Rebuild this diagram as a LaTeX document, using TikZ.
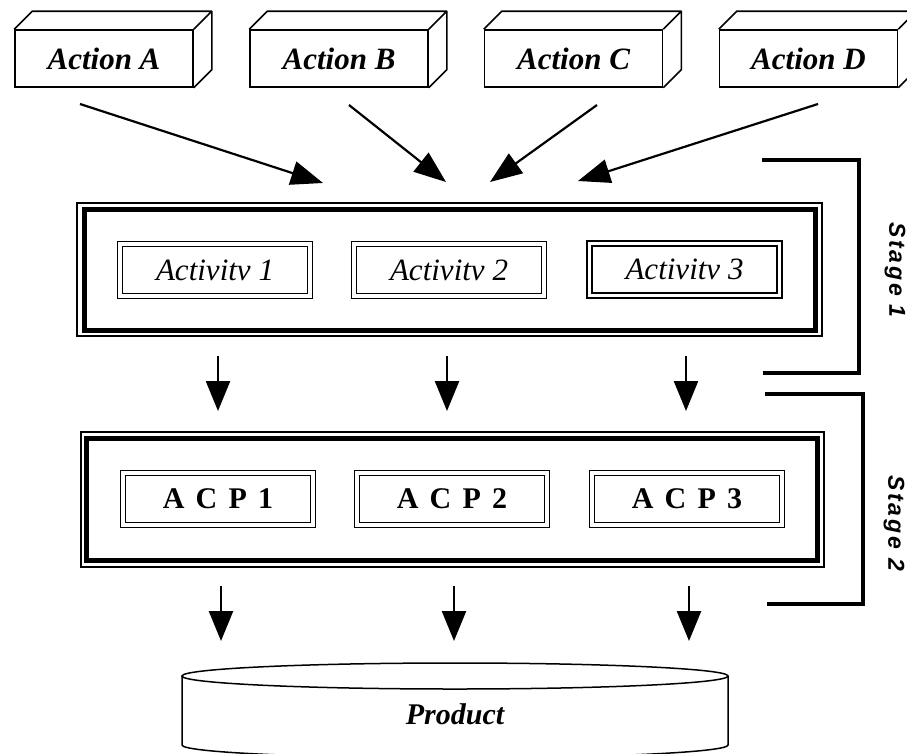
\documentclass[tikz,border=0pt]{standalone}
\usepackage{fontspec}
\setmainfont{Liberation Serif}
\newfontfamily\stagefont[LetterSpace=12]{Liberation Sans}
\newfontfamily\acpfont[WordSpace=1.5]{Liberation Serif}
\usetikzlibrary{arrows.meta}
\tikzset{
  actbox/.style={draw, line width=1.6pt, minimum width=178pt, minimum height=57pt, inner sep=0pt,
    font=\fontsize{31}{36}\selectfont\bfseries\itshape},
  dbox/.style={draw, double, line width=1.5pt, double distance=3.5pt, minimum width=190pt,
    minimum height=52pt, inner sep=0pt},
  actytext/.style={font=\fontsize{31}{36}\selectfont\itshape},
  acptext/.style={font=\acpfont\fontsize{30}{36}\selectfont\bfseries},
  thinframe/.style={draw, line width=1.5pt, inner sep=0pt},
  thickframe/.style={draw, line width=5pt, inner sep=0pt},
  bracket/.style={line width=4pt},
  diagarrow/.style={line width=2.2pt, -{Triangle[width=24pt,length=32pt]}},
  downarrow/.style={line width=2.5pt, -{Triangle[width=24pt,length=30pt]}},
  stagetext/.style={rotate=-90, font=\stagefont\fontsize{23}{26}\selectfont\bfseries\itshape},
}
\begin{document}
\begin{tikzpicture}[x=1pt,y=-1pt]
\useasboundingbox (0,0) rectangle (907,753);
\clip (0,0) rectangle (907,753);
\fill[white] (0,0) rectangle (907,753);

% Action boxes (3D)
\foreach \n/\x/\t in {A/104/Action A, B/339/Action B, C/573.5/Action C, D/808.5/Action D}{
  \node[actbox] (act\n) at (\x,58.5) {\t};
  \draw[line width=1.6pt, line join=round] (act\n.north west) -- ++(18,-18) -| ([shift={(18,-18)}]act\n.south east) -- (act\n.south east)
        (act\n.north east) -- ++(18,-18);
}

% Diagonal arrows
\coordinate (sA) at (80,104);  \coordinate (eA) at (323,183);
\coordinate (sB) at (349,105); \coordinate (eB) at (446,182);
\coordinate (sC) at (597,105); \coordinate (eC) at (490,182);
\coordinate (sD) at (818,104); \coordinate (eD) at (578,181);
\foreach \n in {A,B,C,D}{ \draw[diagarrow] (s\n) -- (e\n); }

% Stage 1 frame
\node[thinframe, minimum width=745pt, minimum height=133pt] (st1out) at (449.5,269.5) {};
\node[thickframe, minimum width=731pt, minimum height=121pt] (st1in) at (449.5,269.5) {};
\node[dbox, actytext] (a1) at (215,270) {Activitv 1};
\node[dbox, actytext] (a2) at (449,270) {Activitv 2};
\node[dbox, actytext] (a3) at (684.5,269.5) {Activitv 3};

% Stage 2 frame
\node[thinframe, minimum width=743pt, minimum height=135pt] (st2out) at (452.5,499.5) {};
\node[thickframe, minimum width=731pt, minimum height=122pt] (st2in) at (451.5,499) {};
\node[dbox, acptext] (p1) at (218,499) {A C P 1};
\node[dbox, acptext] (p2) at (452,499) {A C P 2};
\node[dbox, acptext] (p3) at (687,499) {A C P 3};

% Down arrows between stages
\foreach \i/\x in {1/218, 2/447, 3/686}{
  \coordinate (d1s\i) at (\x,356); \coordinate (d1e\i) at (\x,411);
  \draw[downarrow] (d1s\i) -- (d1e\i);
}
\foreach \i/\x in {1/221, 2/454, 3/689}{
  \coordinate (d2s\i) at (\x,586); \coordinate (d2e\i) at (\x,641);
  \draw[downarrow] (d2s\i) -- (d2e\i);
}

% Stage brackets
\coordinate (b1a) at (762,160); \coordinate (b1c) at (763,373);
\draw[bracket] (b1a) -| (859,373) -- (b1c);
\coordinate (b2a) at (765,394); \coordinate (b2c) at (767,604);
\draw[bracket] (b2a) -| (863,604) -- (b2c);
\node[stagetext] (stage1) at (895,270) {Stage 1};
\node[stagetext] (stage2) at (894,523) {Stage 2};

% Product cylinder
\draw[line width=1.5pt] (455,676) ellipse [x radius=273, y radius=13];
\draw[line width=1.5pt] (182,676) -- (182,745) arc[start angle=180, end angle=0, x radius=273, y radius=13] -- (728,676);
\node[font=\fontsize{30}{36}\selectfont\bfseries\itshape] (prod) at (455,714) {Product};
\end{tikzpicture}
\end{document}
